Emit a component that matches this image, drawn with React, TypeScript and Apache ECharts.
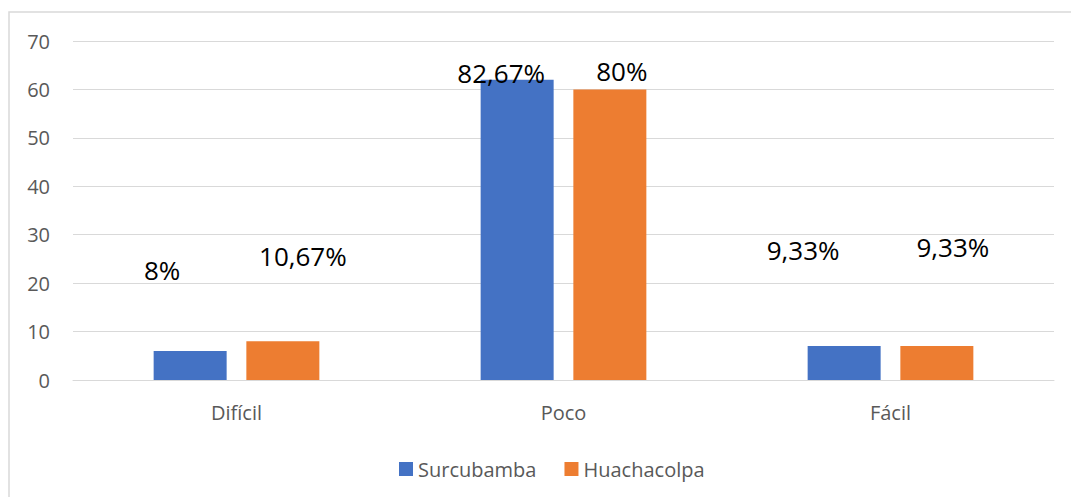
import React, { useEffect, useRef } from "react";
import * as echarts from "echarts";

const categories = ["Difícil", "Poco", "Fácil"];
const seriesNames = ["Surcubamba", "Huachacolpa"];
const surcubambaValues = [6, 62, 7];
const huachacolpaValues = [8, 60, 7];
const surcubambaLabels = ["8%", "82,67%", "9,33%"];
const huachacolpaLabels = ["10,67%", "80%", "9,33%"];
const yMin = 0;
const yMax = 70;
const yInterval = 10;

// label offsets (pixels) relative to top-centre of each bar — layout only
const surcubambaOffsets = [[-28, -81], [-16, -7], [-41, -96]];
const huachacolpaOffsets = [[20, -85], [12, -18], [16, -99]];

const FONT = "'Open Sans', 'Noto Sans', sans-serif";
const BLUE = "#4472C4";
const ORANGE = "#ED7D31";
const GRAY_TEXT = "#595959";
const GRID = "#d9d9d9";

function buildData(values: number[], labels: string[], offsets: number[][]) {
  return values.map((v, i) => ({
    value: v,
    label: {
      show: true,
      position: ["50%", 0],
      align: "center",
      verticalAlign: "middle",
      offset: offsets[i],
      formatter: () => labels[i],
      fontSize: 26,
      fontFamily: FONT,
      color: "#000000",
    },
  }));
}

export default function App() {
  const ref = useRef<HTMLDivElement>(null);
  useEffect(() => {
    document.body.style.margin = "0";
    const chart = echarts.init(ref.current!, null, { renderer: "svg" });
    chart.setOption({
      animation: false,
      backgroundColor: "#ffffff",
      graphic: [
        {
          type: "rect",
          shape: { x: 9, y: 12, width: 1200, height: 700 },
          style: { fill: "none", stroke: GRID, lineWidth: 1.5 },
          silent: true,
          z: -10,
        },
      ],
      grid: { left: 73, right: 17, top: 41, bottom: 117, containLabel: false },
      legend: {
        data: seriesNames,
        left: 394,
        top: 454,
        icon: "rect",
        itemWidth: 14,
        itemHeight: 14,
        itemGap: 28,
        textStyle: { fontSize: 20, fontFamily: FONT, color: GRAY_TEXT },
      },
      xAxis: {
        type: "category",
        data: categories,
        axisLine: { show: true, lineStyle: { color: GRID, width: 1 } },
        axisTick: { show: false },
        axisLabel: { fontSize: 20, fontFamily: FONT, color: GRAY_TEXT, margin: 22 },
      },
      yAxis: {
        type: "value",
        min: yMin,
        max: yMax,
        interval: yInterval,
        axisLine: { show: false },
        axisTick: { show: false },
        splitLine: { lineStyle: { color: GRID, width: 1 } },
        axisLabel: { fontSize: 20, fontFamily: FONT, color: GRAY_TEXT, margin: 23 },
      },
      series: [
        {
          name: seriesNames[0],
          type: "bar",
          barWidth: 73,
          barGap: "27%",
          itemStyle: { color: BLUE },
          data: buildData(surcubambaValues, surcubambaLabels, surcubambaOffsets),
        },
        {
          name: seriesNames[1],
          type: "bar",
          barWidth: 73,
          barGap: "27%",
          itemStyle: { color: ORANGE },
          data: buildData(huachacolpaValues, huachacolpaLabels, huachacolpaOffsets),
        },
      ],
    });
    return () => chart.dispose();
  }, []);
  return <div ref={ref} style={{ width: 1071, height: 497 }} />;
}
